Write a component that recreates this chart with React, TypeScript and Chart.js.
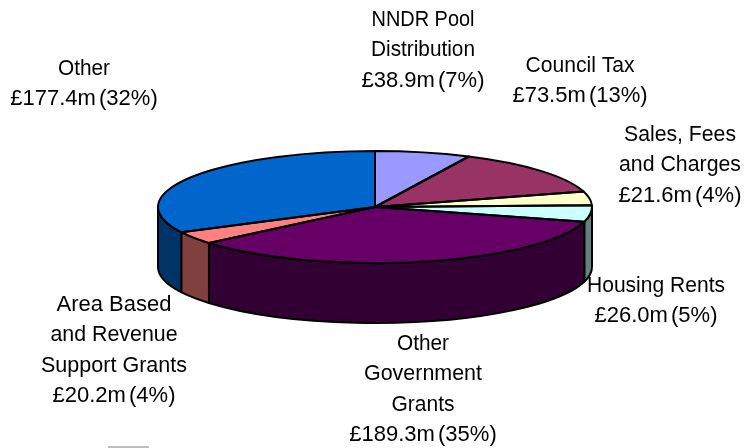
import React, { useEffect, useRef } from "react";
import { Chart, registerables } from "chart.js";

Chart.register(...registerables);

const categories = ["NNDR Pool Distribution", "Council Tax", "Sales, Fees and Charges", "Housing Rents", "Other Government Grants", "Area Based and Revenue Support Grants", "Other"];
const values = [38.9, 73.5, 21.6, 26.0, 189.3, 20.2, 177.4];
const nameLines = [
  ["NNDR Pool", "Distribution"],
  ["Council Tax"],
  ["Sales, Fees", "and Charges"],
  ["Housing Rents"],
  ["Other", "Government", "Grants"],
  ["Area Based", "and Revenue", "Support Grants"],
  ["Other"],
];
const topColors = ["#9999FF", "#993366", "#FFFFCC", "#CCFFFF", "#660066", "#FF8080", "#0066CC"];
const sideColors = ["#4D4D80", "#4D1A33", "#808066", "#668080", "#330033", "#804040", "#003366"];

const labelX = [423, 580, 680, 656, 423, 114, 84];
const labelY = [20, 66, 135, 286, 344, 305, 69];
const nameMaxWidth = [[103, 104], [109], [112, 122], [138], [52, 118, 63], [115, 127, 146], [52]];
const LINE = 30.3;
const FONT = '22px "Liberation Sans", Arial, sans-serif';
const SQUASH = 56 / 217;
const DEPTH = 60;

const total = values.reduce((a, b) => a + b, 0);

const pie3d = {
  id: "pie3d",
  beforeDatasetDraw(chart: any) {
    const ctx = chart.ctx;
    const arcs = chart.getDatasetMeta(0).data;
    ctx.save();
    arcs.forEach((arc: any, i: number) => {
      const spans = [
        [Math.max(arc.startAngle, 0), Math.min(arc.endAngle, Math.PI)],
        [Math.max(arc.startAngle, 2 * Math.PI), Math.min(arc.endAngle, 3 * Math.PI)],
      ];
      spans.forEach(([s, e]) => {
        if (e <= s) return;
        const ry = arc.outerRadius * SQUASH;
        ctx.beginPath();
        ctx.ellipse(arc.x, arc.y, arc.outerRadius, ry, 0, s, e);
        ctx.ellipse(arc.x, arc.y + DEPTH, arc.outerRadius, ry, 0, e, s, true);
        ctx.closePath();
        ctx.fillStyle = sideColors[i];
        ctx.fill();
        ctx.lineWidth = 2;
        ctx.strokeStyle = "#000";
        ctx.lineJoin = "round";
        ctx.stroke();
      });
    });
    const first = arcs[0];
    ctx.translate(first.x, first.y);
    ctx.scale(1, SQUASH);
    ctx.translate(-first.x, -first.y);
  },
  afterDatasetDraw(chart: any) {
    const ctx = chart.ctx;
    ctx.restore();
    const arcs = chart.getDatasetMeta(0).data;
    ctx.save();
    arcs.forEach((arc: any) => {
      const ry = arc.outerRadius * SQUASH;
      ctx.beginPath();
      ctx.moveTo(arc.x, arc.y);
      ctx.ellipse(arc.x, arc.y, arc.outerRadius, ry, 0, arc.startAngle, arc.endAngle);
      ctx.closePath();
      ctx.lineWidth = 2;
      ctx.strokeStyle = "#000";
      ctx.lineJoin = "round";
      ctx.stroke();
    });
    ctx.restore();
  },
  afterDraw(chart: any) {
    const ctx = chart.ctx;
    ctx.save();
    ctx.fillStyle = "#000";
    ctx.font = FONT;
    ctx.textAlign = "center";
    ctx.textBaseline = "middle";
    values.forEach((v, i) => {
      const pct = Math.round((v / total) * 100);
      (ctx as any).wordSpacing = "0px";
      nameLines[i].forEach((t, j) => ctx.fillText(t, labelX[i], labelY[i] + j * LINE, nameMaxWidth[i][j]));
      (ctx as any).wordSpacing = "-3px";
      ctx.fillText(`£${v.toFixed(1)}m (${pct}%)`, labelX[i], labelY[i] + nameLines[i].length * LINE);
    });
    ctx.fillStyle = "#BFBFBF";
    ctx.fillRect(108, 446, 41, 2);
    ctx.restore();
  },
};

export default function App() {
  const ref = useRef<HTMLCanvasElement>(null);
  useEffect(() => {
    document.body.style.margin = "0";
    const chart = new Chart(ref.current!, {
      type: "pie",
      data: {
        labels: categories,
        datasets: [{ data: values, backgroundColor: topColors, borderWidth: 0, clip: false } as any],
      },
      options: {
        animation: false,
        responsive: false,
        devicePixelRatio: 1,
        radius: 217,
        layout: { padding: { left: 6, bottom: 34 } },
        plugins: { legend: { display: false }, tooltip: { enabled: false } },
      } as any,
      plugins: [pie3d],
    });
    return () => chart.destroy();
  }, []);
  return <canvas ref={ref} width={744} height={448} style={{ display: "block" }} />;
}
